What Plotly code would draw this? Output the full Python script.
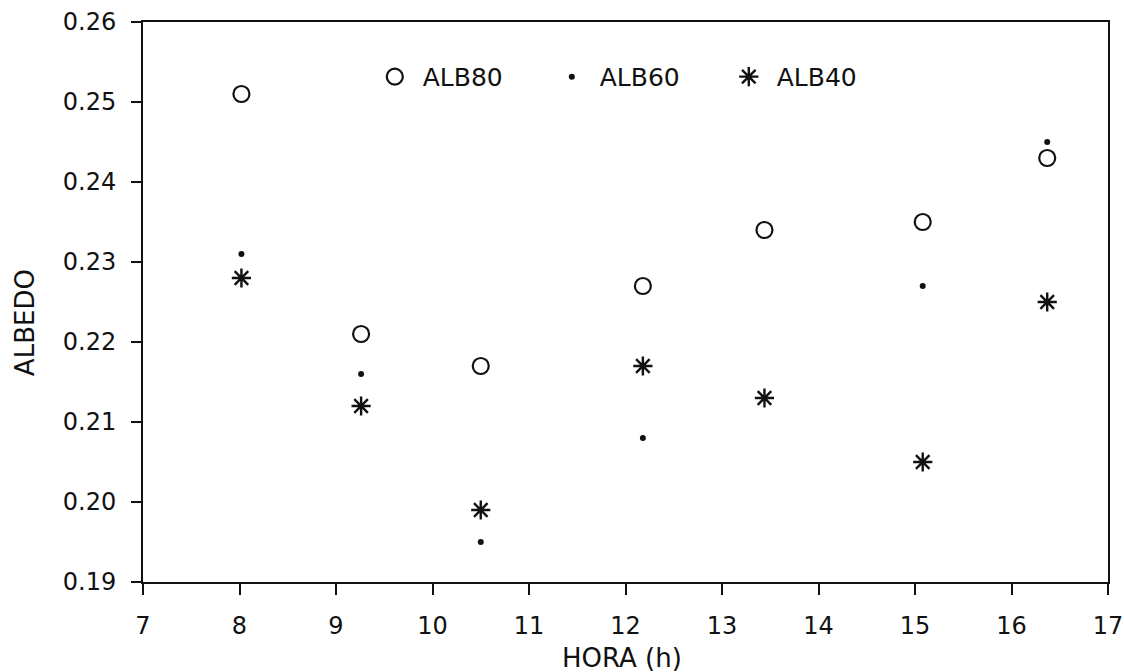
import plotly.graph_objects as go

hora = [8.02, 9.26, 10.5, 12.18, 13.44, 15.08, 16.37]
alb80 = [0.251, 0.221, 0.217, 0.227, 0.234, 0.235, 0.243]
alb60 = [0.231, 0.216, 0.195, 0.208, None, 0.227, 0.245]
alb40 = [0.228, 0.212, 0.199, 0.217, 0.213, 0.205, 0.225]

x_ticks = list(range(7, 18))
y_ticks = [0.19, 0.20, 0.21, 0.22, 0.23, 0.24, 0.25, 0.26]
y_labels = ["0.19", "0.20", "0.21", "0.22", "0.23", "0.24", "0.25", "0.26"]

FONT = "DejaVu Sans"
INK = "#111111"
NB = "\u00a0"

fig = go.Figure()
fig.add_trace(go.Scatter(
    x=hora, y=alb80, mode="markers", name=NB + "ALB80",
    marker=dict(symbol="circle-open", size=16, color=INK, line=dict(width=2.2, color=INK)),
))
fig.add_trace(go.Scatter(
    x=hora, y=alb60, mode="markers", name=NB + "ALB60",
    marker=dict(symbol="circle", size=6, color=INK),
))
fig.add_trace(go.Scatter(
    x=hora, y=alb40, mode="markers", name=NB + "ALB40",
    marker=dict(symbol="asterisk-open", size=16, color=INK, line=dict(width=2.4, color=INK)),
))

axis_common = dict(
    showgrid=False, zeroline=False, showline=True, linecolor=INK, linewidth=2,
    mirror=True, ticks="outside", tickcolor=INK, tickwidth=2, automargin=False,
    tickfont=dict(family=FONT, size=24, color=INK),
)

fig.update_layout(
    width=1124, height=672,
    margin=dict(l=143, r=16, t=22, b=90, autoexpand=False),
    paper_bgcolor="white", plot_bgcolor="white",
    font=dict(family=FONT, color=INK),
    xaxis=dict(range=[7, 17], tickvals=x_ticks, ticklen=11, ticklabelstandoff=10, **axis_common),
    yaxis=dict(range=[0.19, 0.26], tickvals=y_ticks, ticktext=y_labels, ticklen=10,
               ticklabelstandoff=10, **axis_common),
    legend=dict(
        orientation="h", x=0.2402, y=0.902, xanchor="left", yanchor="middle",
        entrywidth=132, entrywidthmode="pixels",
        font=dict(family=FONT, size=25, color=INK),
        bgcolor="rgba(0,0,0,0)", borderwidth=0,
    ),
    annotations=[
        dict(text="HORA (h)", xref="paper", yref="paper", x=0.4964, y=-0.1357,
             xanchor="center", yanchor="middle", showarrow=False,
             font=dict(family=FONT, size=26, color=INK)),
        dict(text="ALBEDO", xref="paper", yref="paper", x=-0.1223, y=0.464,
             xanchor="center", yanchor="middle", showarrow=False, textangle=-90,
             font=dict(family=FONT, size=26, color=INK)),
    ],
)

fig.write_html("out.html")
